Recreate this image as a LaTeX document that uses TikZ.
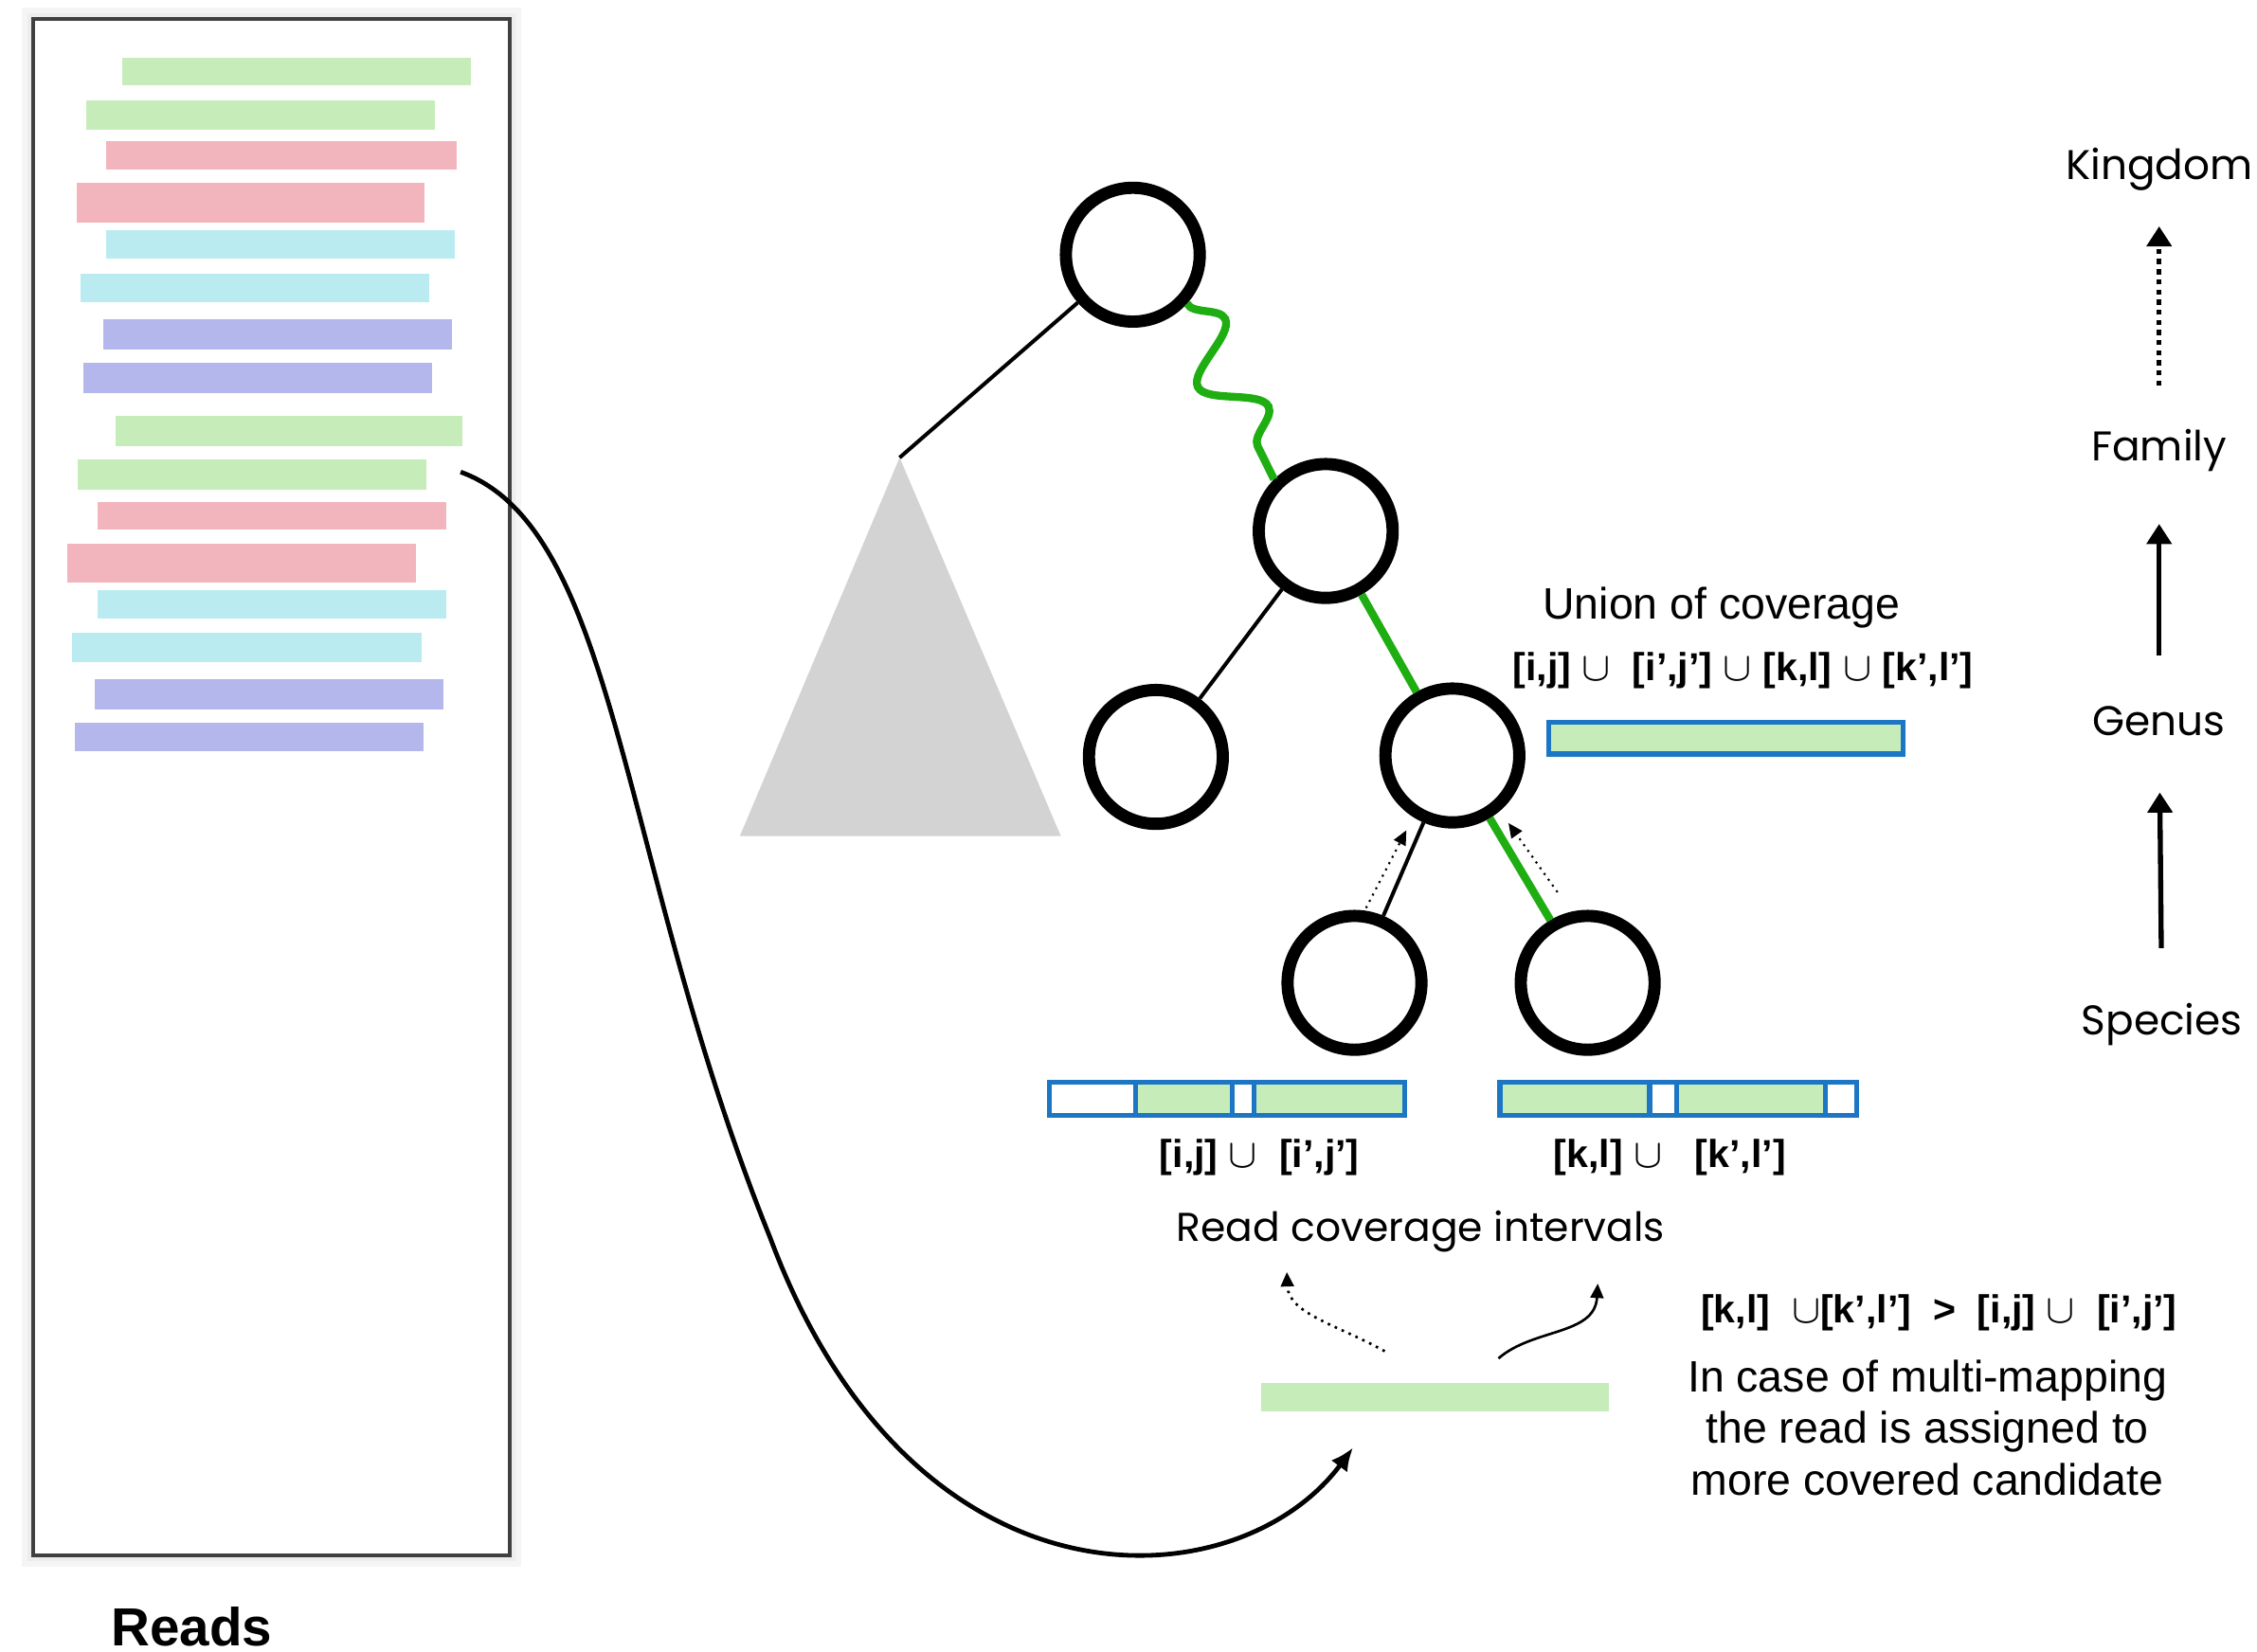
\documentclass[tikz,border=0pt]{standalone}
\usepackage{fontspec}
\setmainfont{Liberation Sans}
\newfontfamily\geofont{Poppins}
\usepackage{tikz}
\usetikzlibrary{arrows.meta, decorations.pathmorphing}
\definecolor{rgreen}{HTML}{C6ECBA}
\definecolor{rpink}{HTML}{F2B5BD}
\definecolor{rcyan}{HTML}{BAEBF0}
\definecolor{rblue}{HTML}{B4B7EC}
\definecolor{tgreen}{HTML}{1FAE12}
\definecolor{cblue}{HTML}{1C76C4}
\definecolor{tgray}{HTML}{D3D3D3}
\tikzset{
  >=Latex,
  readsbox/.style={
    draw=black!75, fill=white, line width=0.8pt, inner sep=0pt,
    minimum width=3.31cm, minimum height=10.68cm
  },
  taxon/.style={circle, draw=black, line width=0.85mm, minimum size=9.3mm, inner sep=0pt},
  branch/.style={line width=0.75pt, draw=black},
  hilite/.style={line width=0.55mm, draw=tgreen},
  wavy/.style={
    line width=0.55mm, draw=tgreen, decorate,
    decoration={snake, amplitude=1.9mm, segment length=6.8mm}
  },
  covbar/.style={draw=cblue, line width=1pt},
  lab/.style={font=\fontsize{8.7}{10.2}\selectfont},
  ivl/.style={font=\fontsize{7.7}{9}\selectfont\bfseries},
  rank/.style={font=\geofont\fontsize{8.2}{10}\selectfont},
  rankarr/.style={-{Triangle[width=1.7mm,length=1.4mm]}, line width=1pt},
  thinarr/.style={-{Triangle[width=0.9mm,length=1mm]}, line width=0.5pt},
  maparr/.style={-{Latex[length=1.6mm,width=1.4mm]}, line width=0.9pt}
}

\begin{document}
\begin{tikzpicture}
  \useasboundingbox (0,0) rectangle (15.68,11.48);
  % reads panel
  \fill[black!4] (0.15,0.59) rectangle (3.62,11.43);
  \fill[black!7] (0.19,0.63) rectangle (3.58,11.39);
  \node[readsbox] (reads) at (1.885,6.01) {};
  \foreach \xa/\ya/\xb/\yb/\c in {
    0.85/11.08/3.27/10.89/rgreen, 0.60/10.78/3.02/10.58/rgreen,
    0.74/10.50/3.17/10.30/rpink,  0.53/10.21/2.95/9.93/rpink,
    0.74/9.88/3.16/9.68/rcyan,    0.56/9.58/2.98/9.38/rcyan,
    0.72/9.26/3.14/9.05/rblue,    0.58/8.96/3.00/8.75/rblue,
    0.80/8.59/3.21/8.38/rgreen,   0.54/8.29/2.96/8.08/rgreen,
    0.68/7.99/3.10/7.80/rpink,    0.47/7.70/2.89/7.43/rpink,
    0.68/7.38/3.10/7.18/rcyan,    0.50/7.08/2.93/6.88/rcyan,
    0.66/6.76/3.08/6.55/rblue,    0.52/6.46/2.94/6.26/rblue} {
    \fill[\c] (\xa,\ya) rectangle (\xb,\yb);
  }
  \node[font=\fontsize{10.6}{12}\selectfont\bfseries, anchor=base west] (readslab) at (0.65,0.04) {Reads};

  % tree
  \fill[tgray] (6.25,8.30) -- (7.37,5.67) -- (5.14,5.67) -- cycle;
  \coordinate (apex) at (6.25,8.30);
  \node[taxon] (root) at (7.87,9.71) {};
  \node[taxon] (mid) at (9.21,7.79) {};
  \node[taxon] (left) at (8.03,6.22) {};
  \node[taxon] (right) at (10.09,6.23) {};
  \node[taxon] (leafa) at (9.41,4.65) {};
  \node[taxon] (leafb) at (11.03,4.65) {};
  \draw[branch] (root) -- (apex);
  \draw[wavy] (root.-42) -- (mid.135);
  \draw[branch] (mid) -- (left);
  \draw[hilite] (mid) -- (right);
  \draw[branch] (right) -- (leafa);
  \draw[hilite] (right) -- (leafb);
  \coordinate (pa) at (9.49,5.17);
  \coordinate (qa) at (9.77,5.71);
  \coordinate (pb) at (10.82,5.28);
  \coordinate (qb) at (10.48,5.76);
  \draw[thinarr, line width=0.4pt, densely dotted] (pa) -- (qa);
  \draw[thinarr, line width=0.4pt, densely dotted] (pb) -- (qb);

  % coverage bars
  \node[covbar, fill=rgreen, minimum width=2.46cm, minimum height=0.22cm, inner sep=0pt] (ucov) at (11.99,6.35) {};
  \fill[rgreen] (7.89,3.73) rectangle (8.56,3.96);
  \fill[rgreen] (8.71,3.73) rectangle (9.76,3.96);
  \node[covbar, minimum width=2.47cm, minimum height=0.23cm, inner sep=0pt] (cova) at (8.525,3.845) {};
  \foreach \x in {7.89,8.56,8.71} \draw[covbar] (\x,3.73) -- (\x,3.96);
  \fill[rgreen] (10.42,3.73) rectangle (11.46,3.96);
  \fill[rgreen] (11.65,3.73) rectangle (12.68,3.96);
  \node[covbar, minimum width=2.48cm, minimum height=0.23cm, inner sep=0pt] (covb) at (11.66,3.845) {};
  \foreach \x in {11.46,11.65,12.68} \draw[covbar] (\x,3.73) -- (\x,3.96);

  \node[lab] (unionlab) at (11.96,7.26) {Union of coverage};
  \node[ivl] (unionset) at (12.11,6.82) {[i,j] $\cup$\ \ [i',j'] $\cup$ [k,l] $\cup$ [k',l']};
  \node[ivl] (seta) at (8.75,3.44) {[i,j] $\cup$\ \ [i',j']};
  \node[ivl] (setb) at (11.60,3.44) {[k,l] $\cup$\ \ \ [k',l']};
  \node[font=\geofont\fontsize{7.95}{10}\selectfont] (covlab) at (9.87,2.92) {Read coverage intervals};

  % multi-mapped read
  \node[fill=rgreen, minimum width=2.42cm, minimum height=0.2cm, inner sep=0pt] (read) at (9.97,1.77) {};
  \coordinate (ra) at (9.62,2.09);
  \coordinate (ta) at (8.94,2.64);
  \coordinate (rb) at (10.41,2.04);
  \coordinate (tb) at (11.10,2.56);
  \draw[thinarr, densely dotted] (ra) .. controls (9.3,2.27) and (8.95,2.35) .. (ta);
  \draw[thinarr] (rb) .. controls (10.65,2.25) and (11.08,2.2) .. (tb);
  \coordinate (rd) at (3.20,8.20);
  \coordinate (rt) at (9.40,1.42);
  \draw[maparr] (rd) .. controls (4.30,7.80) and (4.30,5.48) .. (5.35,2.88)
    .. controls (6.35,0.20) and (8.60,0.34) .. (rt);
  \node[ivl] (cmp) at (13.47,2.36) {[k,l]\ \ $\cup$[k',l']\ \ >\ \ [i,j] $\cup$\ \ [i',j']};
  \node[lab, align=center] (rule) at (13.39,1.56) {In case of multi-mapping\\the read is assigned to\\more covered candidate};

  % ranks
  \node[rank] (kingdom) at (15.00,10.30) {Kingdom};
  \node[rank] (family) at (15.00,8.35) {Family};
  \node[rank] (genus) at (15.00,6.47) {Genus};
  \node[rank] (species) at (15.02,4.36) {Species};
  \draw[rankarr, densely dotted, shorten <=0.18cm, shorten >=0.12cm] (family) -- (kingdom);
  \draw[rankarr, shorten <=0.23cm, shorten >=0.24cm] (genus) -- (family);
  \draw[rankarr, shorten <=0.26cm, shorten >=0.27cm] (species) -- (genus);
\end{tikzpicture}
\end{document}
